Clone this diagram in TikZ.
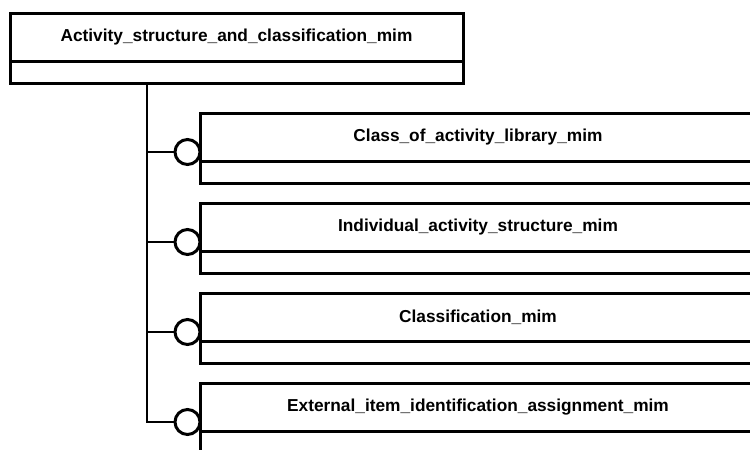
\documentclass[tikz,border=0pt]{standalone}
\usepackage{fontspec}
\setmainfont{Liberation Sans}
\usetikzlibrary{shapes, positioning}

\tikzset{
    entname/.style={draw, line width=3pt, outer sep=0pt, inner sep=0pt, minimum height=48pt, font=\fontsize{17.3}{18}\selectfont\bfseries},
    entbody/.style={draw, line width=3pt, outer sep=0pt, inner sep=0pt, minimum height=22pt},
    plug/.style={draw, circle, line width=3pt, outer sep=0pt, inner sep=0pt, minimum size=25pt, fill=white},
    link/.style={line width=2.5pt}
}

\begin{document}
\begin{tikzpicture}[x=1pt, y=-1pt]
    \useasboundingbox (0,0) rectangle (750,450);
    \clip (0,0) rectangle (750,450);

    \node[entname, minimum width=453pt] (top) at (236.5,37) {Activity\_structure\_and\_classification\_mim};
    \node[entbody, minimum width=453pt, below=0pt of top] (topbody) {};
    \coordinate (trunk) at ([xshift=137pt]topbody.south west);

    \foreach \i/\y/\name in {1/137/Class\_of\_activity\_library\_mim,
                             2/227/Individual\_activity\_structure\_mim,
                             3/317/Classification\_mim,
                             4/407/External\_item\_identification\_assignment\_mim} {
        \node[entname, minimum width=556pt] (ent\i) at (478,\y) {\name};
        \node[entbody, minimum width=556pt, below=0pt of ent\i] (body\i) {};
        \node[plug] (plug\i) at (187.5,\y+15) {};
        \draw[link] (plug\i.west) -- (plug\i.west -| trunk);
    }

    \draw[link] (trunk) |- (plug4.west);
\end{tikzpicture}
\end{document}
